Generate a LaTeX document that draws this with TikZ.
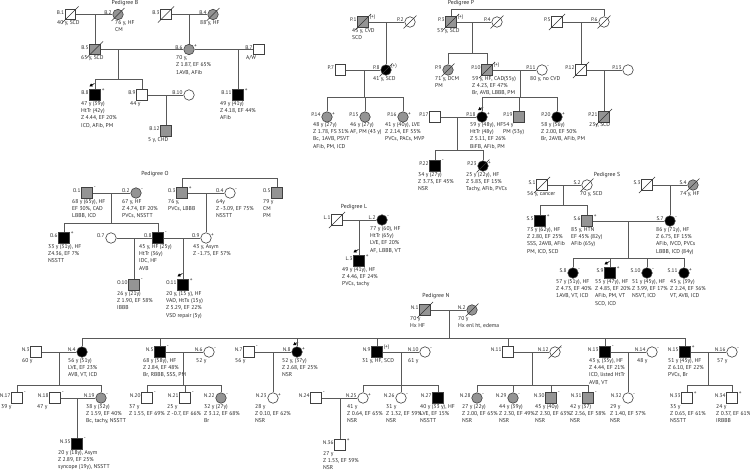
\documentclass[tikz,border=0pt]{standalone}
\usepackage{fontspec}
\setmainfont{PT Sans}
\usetikzlibrary{arrows.meta}
\tikzset{
  ln/.style={draw=black!65,line width=0.7pt},
  sq/.style={rectangle,draw=black!75,line width=0.6pt,minimum size=10.5pt,inner sep=0pt},
  ci/.style={circle,draw=black!75,line width=0.6pt,minimum size=10.5pt,inner sep=0pt},
  wh/.style={fill=white},
  gr/.style={fill=black!42},
  bk/.style={fill=black},
  lab/.style={anchor=east,inner sep=0.8pt,text=black!85,font=\fontsize{5.3}{6}\selectfont},
  sgn/.style={anchor=west,inner sep=0.4pt,text=black!85,font=\fontsize{5.3}{6}\selectfont},
  txt/.style={anchor=north west,align=left,inner sep=0pt,text=black!85,font=\fontsize{5.6}{7.3}\selectfont},
  ttl/.style={inner sep=0pt,text=black!85,font=\fontsize{5.8}{7}\selectfont},
  decl/.style={draw=black!80,line width=0.6pt},
  prb/.style={-{Triangle[length=3pt,width=3.4pt]},line width=0.7pt,draw=black}
}
\newcommand{\pp}[5]{\node[#2] (#1) at (#3,#4) {};\node[lab] (#1l) at ([yshift=2pt]#1.west) {#5};}
\newcommand{\sg}[2]{\node[sgn] (#1s) at ([xshift=0.6pt,yshift=-0.5pt]#1.north east) {#2};}
\newcommand{\dd}[1]{\draw[decl] ([shift={(-2.5pt,-2.5pt)}]#1.south west) -- ([shift={(2.5pt,2.5pt)}]#1.north east);}
\newcommand{\tx}[4]{\node[txt] (#1t) at (#2,#3) {#4};}
\newcommand{\pb}[1]{\draw[prb] ([shift={(5pt,6pt)}]#1.north west) -- ([shift={(0pt,3pt)}]#1.north west);}
\newcommand{\kids}[2]{\foreach \kk in {#2} {\draw[ln] (#1) -| (\kk);}}
\begin{document}
\begin{tikzpicture}[x=1pt,y=-1pt]
\useasboundingbox (0,0) rectangle (750,472);
%================ Pedigree B
\node[ttl] (tB) at (125,3.5) {Pedigree B};
\pp{B1}{sq,wh}{70.5}{14.5}{B.1}
\pp{B2}{ci,gr}{118}{14.5}{B.2}
\pp{B3}{sq,wh}{166}{14.5}{B.3}
\pp{B4}{ci,gr}{213}{14.5}{B.4}
\pp{B5}{sq,gr}{95}{49.5}{B.5}
\pp{B6}{ci,gr}{189}{49.5}{B.6}
\pp{B7}{sq,wh}{259}{49.5}{B.7}
\pp{B8}{sq,bk}{95}{95}{B.8}
\pp{B9}{sq,wh}{142}{95}{B.9}
\pp{B10}{ci,wh}{189}{95}{B.10}
\pp{B11}{sq,bk}{238}{95}{B.11}
\pp{B12}{sq,gr}{166}{131}{B.12}
\dd{B1}\dd{B2}\dd{B3}\dd{B4}\dd{B5}
\sg{B6}{+}\sg{B8}{+}\sg{B11}{+}
\pb{B8}
\tx{B1}{57}{20.5}{40 y, SCD}
\tx{B2}{115}{20.5}{76 y, HF\\CM}
\tx{B4}{200}{20.5}{88 y, HF}
\tx{B5}{81}{55.5}{65 y, SCD}
\tx{B6}{176}{55.5}{70 y,\\Z 1.87, EF 65\%\\1AVB, AFib}
\tx{B7}{246}{55.5}{A/W}
\tx{B8}{81}{101}{47 y (39y)\\HtTr (42y)\\Z 4.44, EF 20\%\\ICD, AFib, PM}
\tx{B9}{130}{101}{44 y}
\tx{B11}{220}{101}{49 y (41y)\\Z 4.18, EF 44\%\\AFib}
\tx{B12}{148}{137}{5 y, CHD}
\coordinate (jB1) at (95,14.5);
\coordinate (jB2) at (189,14.5);
\coordinate (jB3) at (118,49.5);
\coordinate (jB4) at (238,49.5);
\coordinate (jB5) at (166,95);
\coordinate (sB) at (118,79);
\draw[ln] (B1) -- (B2);
\draw[ln] (B3) -- (B4);
\draw[ln] (B5) -- (B6);
\draw[ln] (B6) -- (B7);
\draw[ln] (B9) -- (B10);
\draw[ln] (jB1) -- (B5);
\draw[ln] (jB2) -- (B6);
\draw[ln] (jB3) -- (sB);
\kids{sB}{B8,B9}
\draw[ln] (jB4) -- (B11);
\draw[ln] (jB5) -- (B12);
%================ Pedigree P
\node[ttl] (tP) at (461,3) {Pedigree P};
\pp{P1}{sq,gr}{363}{22}{P.1}
\pp{P2}{ci,wh}{410}{22}{P.2}
\pp{P3}{sq,gr}{451}{22}{P.3}
\pp{P4}{ci,wh}{497}{22}{P.4}
\pp{P5}{sq,wh}{557}{22}{P.5}
\pp{P6}{ci,wh}{604}{22}{P.6}
\pp{P7}{sq,wh}{340.5}{70}{P.7}
\pp{P8}{ci,bk}{386}{70}{P.8}
\pp{P9}{ci,gr}{448}{70}{P.9}
\pp{P10}{sq,gr}{487}{70}{P.10}
\pp{P11}{ci,wh}{542}{70}{P.11}
\pp{P12}{sq,wh}{581}{70}{P.12}
\pp{P13}{ci,wh}{628}{70}{P.13}
\pp{P14}{ci,gr}{327}{117}{P.14}
\pp{P15}{ci,gr}{365}{117}{P.15}
\pp{P16}{ci,gr}{403}{117}{P.16}
\pp{P17}{sq,wh}{435}{117}{P.17}
\pp{P18}{ci,bk}{482}{117}{P.18}
\pp{P19}{sq,gr}{519}{117}{P.19}
\pp{P20}{ci,bk}{557}{117}{P.20}
\pp{P21}{sq,gr}{604}{117}{P.21}
\pp{P22}{sq,bk}{435}{166}{P.22}
\pp{P23}{ci,bk}{483}{166}{P.23}
\dd{P1}\dd{P2}\dd{P3}\dd{P4}\dd{P5}\dd{P6}\dd{P8}\dd{P9}\dd{P10}\dd{P12}\dd{P21}\dd{P23}
\sg{P1}{(+)}\sg{P3}{(+)}\sg{P8}{(+)}\sg{P10}{(+)}\sg{P11}{-}
\sg{P14}{+}\sg{P16}{+}\sg{P18}{+}\sg{P20}{+}\sg{P22}{-}\sg{P23}{+}
\pb{P18}
\tx{P1}{352}{28.5}{43 y, CVD\\SCD}
\tx{P3}{437}{28.5}{53 y, SCD}
\tx{P8}{373}{76}{41 y, SCD}
\tx{P9}{435}{76}{71 y, DCM\\PM}
\tx{P10}{472}{76}{59 y, HF, CAD(55y)\\Z 4.23, EF 47\%\\Br, AVB, LBBB, PM}
\tx{P11}{530}{76}{80 y, no CVD}
\tx{P14}{313}{122}{48 y (27y)\\Z 1.78, FS 31\%\\Bc, 1AVB, PSVT\\AFib, PM, ICD}
\tx{P15}{350}{122}{46 y (27y)\\AF, PM (43 y)}
\tx{P16}{385}{122}{41 y (40y), LVE\\Z 2.14, EF 55\%\\PVCs, PACs, MVP}
\tx{P18}{470}{122}{59 y (48y), HF\\HtTr (48y)\\Z 5.11, EF 26\%\\BiFB, AFib, PM}
\tx{P19}{503}{122}{54 y\\PM (53y)}
\tx{P20}{541}{122}{58 y (56y)\\Z 2.00, EF 50\%\\Br, 2AVB, AFib, PM}
\tx{P21}{589}{122}{23y, SCD}
\tx{P22}{418}{172}{34 y (27y)\\Z 3.73, EF 45\%\\NSR}
\tx{P23}{466}{172}{25 y (22y), HF\\Z 5.83, EF 15\%\\Tachy, AFib, PVCs}
\coordinate (sP0) at (527,9);
\kids{sP0}{P3,P6}
\coordinate (jP1) at (386,22);
\coordinate (jP2) at (472,22);
\coordinate (jP3) at (581,22);
\coordinate (jP4) at (364,70);
\coordinate (jP5) at (520,70);
\coordinate (jP6) at (604,70);
\coordinate (jP7) at (457,117);
\coordinate (sP2) at (472,53);
\coordinate (sP4) at (364,97);
\coordinate (sP5) at (520,97);
\coordinate (sP7) at (457,150);
\draw[ln] (P1) -- (P2);
\draw[ln] (P3) -- (P4);
\draw[ln] (P5) -- (P6);
\draw[ln] (P7) -- (P8);
\draw[ln] (P10) -- (P11);
\draw[ln] (P12) -- (P13);
\draw[ln] (P17) -- (P18);
\draw[ln] (jP1) -- (P8);
\draw[ln] (jP2) -- (sP2);
\kids{sP2}{P9,P10}
\draw[ln] (jP3) -- (P12);
\draw[ln] (jP4) -- (sP4);
\kids{sP4}{P14,P15,P16}
\draw[ln] (jP5) -- (sP5);
\kids{sP5}{P18,P19,P20}
\draw[ln] (jP6) -- (P21);
\draw[ln] (jP7) -- (sP7);
\kids{sP7}{P22,P23}
%================ Pedigree O
\node[ttl] (tO) at (155,174) {Pedigree O};
\pp{O1}{sq,gr}{87}{193}{O.1}
\pp{O2}{ci,gr}{136}{193}{O.2}
\pp{O3}{sq,gr}{182}{193}{O.3}
\pp{O4}{ci,wh}{230}{193}{O.4}
\pp{O5}{sq,gr}{277}{193}{O.5}
\pp{O6}{sq,bk}{64}{238}{O.6}
\pp{O7}{ci,wh}{111}{238}{O.7}
\pp{O8}{sq,bk}{158}{238}{O.8}
\pp{O9}{ci,wh}{206}{238}{O.9}
\pp{O10}{sq,gr}{134}{285}{O.10}
\pp{O11}{sq,bk}{183}{285}{O.11}
\sg{O1}{-}\sg{O2}{-}\sg{O3}{+}\sg{O4}{-}\sg{O6}{+}\sg{O8}{-}\sg{O9}{+}\sg{O10}{-}\sg{O11}{+}
\pb{O11}
\tx{O1}{72}{199}{68 y (65y), HF\\EF 30\%, CAD\\LBBB, ICD}
\tx{O2}{122}{199}{67 y, HF\\Z 4.74, EF 20\%\\PVCs, NSSTT}
\tx{O3}{168}{199}{76 y,\\PVCs, LBBB}
\tx{O4}{216}{199}{64y\\Z -3.09, EF 75\%\\NSSTT}
\tx{O5}{263}{199}{79 y\\CM\\PM}
\tx{O6}{48}{244}{33 y (31y), HF\\Z4.36, EF 7\%\\NSSTT}
\tx{O8}{139}{244}{45 y, HF (25y)\\HtTr (36y)\\IDC, HF\\AVB}
\tx{O9}{193}{244}{43 y, Asym\\Z -1.75, EF 57\%}
\tx{O10}{117}{291}{26 y (21y)\\Z 1.90, EF 58\%\\IBBB}
\tx{O11}{166}{291}{20 y, (15 y), HF\\VAD, HtTx (15y)\\Z 5.29, EF 22\%\\VSD repair (5y)}
\coordinate (sO0) at (230,178);
\kids{sO0}{O3,O5}
\coordinate (jO1) at (111,193);
\coordinate (jO2) at (206,193);
\coordinate (jO3) at (134,238);
\coordinate (jO4) at (183,238);
\coordinate (sO1) at (111,223);
\draw[ln] (O1) -- (O2);
\draw[ln] (O3) -- (O4);
\draw[ln] (O7) -- (O8);
\draw[ln] (O8) -- (O9);
\draw[ln] (jO1) -- (sO1);
\kids{sO1}{O6,O8}
\draw[ln] (jO2) -- (O9);
\draw[ln] (jO3) -- (O10);
\draw[ln] (jO4) -- (O11);
%================ Pedigree L
\node[ttl] (tL) at (354,207) {Pedigree L};
\pp{L1}{sq,wh}{337}{220}{L.1}
\pp{L2}{ci,bk}{382}{220}{L.2}
\pp{L3}{sq,bk}{359}{261}{L.3}
\dd{L1}
\sg{L2}{-}\sg{L3}{+}
\pb{L3}
\tx{L2}{370}{226}{77 y (60), HF\\HtTr (65y)\\LVE, EF 20\%\\AF, LBBB, VT}
\tx{L3}{342}{267}{49 y (41y), HF\\Z 4.46, EF 24\%\\PVCs, tachy}
\coordinate (jL1) at (359,220);
\draw[ln] (L1) -- (L2);
\draw[ln] (jL1) -- (L3);
%================ Pedigree S
\node[ttl] (tS) at (607,175) {Pedigree S};
\pp{S1}{sq,wh}{542}{185}{S.1}
\pp{S2}{ci,wh}{587}{185}{S.2}
\pp{S3}{sq,wh}{647}{185}{S.3}
\pp{S4}{ci,gr}{693}{185}{S.4}
\pp{S5}{sq,bk}{540}{221}{S.5}
\pp{S6}{sq,gr}{587}{221}{S.6}
\pp{S7}{ci,bk}{670}{221}{S.7}
\pp{S8}{ci,bk}{573}{273}{S.8}
\pp{S9}{sq,bk}{610}{273}{S.9}
\pp{S10}{ci,bk}{647}{273}{S.10}
\pp{S11}{ci,bk}{684}{273}{S.11}
\dd{S1}\dd{S2}\dd{S3}\dd{S4}
\sg{S5}{+}\sg{S6}{+}\sg{S7}{-}\sg{S8}{-}\sg{S9}{+}\sg{S10}{-}\sg{S11}{+}
\pb{S9}
\tx{S1}{527}{191}{56 y, cancer}
\tx{S2}{580}{191}{70 y, SCD}
\tx{S4}{680}{191}{74 y, HF}
\tx{S5}{527}{227}{73 y (62y), HF\\Z 2.80, EF 25\%\\SSS, 2AVB, AFib\\PM, ICD, SCD}
\tx{S6}{571}{227}{85 y, HTN\\EF 45\% (82y)\\AFib (65y)}
\tx{S7}{656}{227}{86 y (71y), HF\\Z 6.75, EF 15\%\\AFib, IVCD, PVCs\\LBBB, ICD (84y)}
\tx{S8}{556}{279}{57 y (51y), HF\\Z 4.73, EF 40\%\\1AVB, VT, ICD}
\tx{S9}{595}{279}{55 y (47y), HF\\Z 4.85, EF 20\%\\AFib, PM, VT\\SCD, ICD}
\tx{S10}{632}{279}{51 y (45y), HF\\Z 3.99, EF 17\%\\NSVT, ICD}
\tx{S11}{670}{279}{45 y, (39y)\\Z 2.24, EF 36\%\\VT, AVB, ICD}
\coordinate (jS1) at (563,185);
\coordinate (jS2) at (670,185);
\coordinate (jS3) at (628,221);
\coordinate (sS1) at (563,205);
\coordinate (sS3) at (628,258);
\draw[ln] (S1) -- (S2);
\draw[ln] (S3) -- (S4);
\draw[ln] (S6) -- (S7);
\draw[ln] (jS1) -- (sS1);
\kids{sS1}{S5,S6}
\draw[ln] (jS2) -- (S7);
\draw[ln] (jS3) -- (sS3);
\kids{sS3}{S8,S9,S10,S11}
%================ Pedigree N
\node[ttl] (tN) at (436,296) {Pedigree N};
\pp{N1}{sq,gr}{425}{310}{N.1}
\pp{N2}{ci,gr}{472}{310}{N.2}
\pp{N3}{sq,wh}{36}{352}{N.3}
\pp{N4}{ci,bk}{82}{352}{N.4}
\pp{N5}{sq,bk}{160}{352}{N.5}
\pp{N6}{ci,wh}{209}{352}{N.6}
\pp{N7}{sq,wh}{249}{352}{N.7}
\pp{N8}{ci,bk}{297}{352}{N.8}
\pp{N9}{sq,bk}{377}{352}{N.9}
\pp{N10}{ci,wh}{425}{352}{N.10}
\pp{N11}{sq,wh}{508}{352}{N.11}
\pp{N12}{ci,wh}{555}{352}{N.12}
\pp{N13}{sq,bk}{605}{352}{N.13}
\pp{N14}{ci,wh}{652}{352}{N.14}
\pp{N15}{sq,bk}{685}{352}{N.15}
\pp{N16}{ci,wh}{732}{352}{N.16}
\pp{N17}{sq,wh}{17}{398}{N.17}
\pp{N18}{sq,wh}{55}{398}{N.18}
\pp{N19}{ci,gr}{101}{398}{N.19}
\pp{N20}{sq,wh}{147}{398}{N.20}
\pp{N21}{sq,wh}{185}{398}{N.21}
\pp{N22}{ci,gr}{221}{398}{N.22}
\pp{N23}{ci,wh}{273}{398}{N.23}
\pp{N24}{sq,wh}{316}{398}{N.24}
\pp{N25}{ci,wh}{363}{398}{N.25}
\pp{N26}{ci,wh}{401}{398}{N.26}
\pp{N27}{sq,bk}{438}{398}{N.27}
\pp{N28}{ci,gr}{477}{398}{N.28}
\pp{N29}{ci,gr}{513}{398}{N.29}
\pp{N30}{sq,gr}{551}{398}{N.30}
\pp{N31}{sq,gr}{588}{398}{N.31}
\pp{N32}{ci,wh}{628}{398}{N.32}
\pp{N33}{sq,wh}{687}{398}{N.33}
\pp{N34}{sq,wh}{732}{398}{N.34}
\pp{N35}{sq,bk}{77}{444}{N.35}
\pp{N36}{sq,wh}{340}{445}{N.36}
\dd{N1}\dd{N2}\dd{N12}
\sg{N5}{-}\sg{N6}{-}\sg{N7}{-}\sg{N8}{+}\sg{N9}{(+)}\sg{N10}{-}\sg{N12}{-}\sg{N13}{-}\sg{N14}{-}\sg{N15}{+}\sg{N16}{-}
\sg{N17}{-}\sg{N18}{-}\sg{N19}{-}\sg{N20}{-}\sg{N21}{-}\sg{N22}{-}\sg{N23}{+}\sg{N24}{-}\sg{N25}{+}\sg{N26}{-}
\sg{N28}{-}\sg{N29}{-}\sg{N30}{-}\sg{N31}{-}\sg{N32}{-}\sg{N33}{+}\sg{N34}{+}\sg{N35}{-}\sg{N36}{+}
\pb{N8}
\tx{N1}{410}{316}{70 y\\Hx HF}
\tx{N2}{458}{316}{70 y\\Hx enl ht, edema}
\tx{N3}{22}{358}{60 y}
\tx{N4}{68}{358}{56 y (51y)\\LVE, EF 23\%\\AVB, VT, ICD}
\tx{N5}{143}{358}{68 y (58y), HF\\Z 2.84, EF 48\%\\Br, RBBB, SSS, PM}
\tx{N6}{196}{358}{52 y}
\tx{N7}{235}{358}{56 y}
\tx{N8}{282}{358}{52 y, (37y)\\Z 2.68, EF 25\%\\NSR}
\tx{N9}{362}{358}{31 y, HF, SCD}
\tx{N10}{408}{358}{61 y}
\tx{N13}{589}{358}{43 y, (35y), HF\\Z 4.44, EF 21\%\\ICD, listed HtTr\\AVB, VT}
\tx{N14}{637}{358}{48 y}
\tx{N15}{668}{358}{51 y (45y), HF\\Z 6.10, EF 22\%\\PVCs, Br}
\tx{N16}{717}{358}{57 y}
\tx{N17}{1}{404}{39 y}
\tx{N18}{37}{404}{47 y}
\tx{N19}{86}{404}{38 y (32y)\\Z 1.59, EF 40\%\\Bc, tachy, NSSTT}
\tx{N20}{129}{404}{37 y\\Z 1.55, EF 69\%}
\tx{N21}{167}{404}{25 y\\Z -0.7, EF 66\%}
\tx{N22}{204}{404}{32 y (27y)\\Z 3.12, EF 68\%\\Br}
\tx{N23}{255}{404}{28 y\\Z 0.10, EF 62\%\\NSR}
\tx{N25}{347}{404}{41 y\\Z 0.64, EF 65\%\\NSR}
\tx{N26}{386}{404}{31 y\\Z 1.32, EF 59\%\\NSR}
\tx{N27}{420}{404}{40 y (33 y), HF\\LVE, EF 15\%\\NSSTT}
\tx{N28}{462}{404}{27 y (22y)\\Z 2.00, EF 65\%\\NSR}
\tx{N29}{499}{404}{44 y (39y)\\Z 2.30, EF 49\%\\NSR}
\tx{N30}{535}{404}{45 y (40y)\\Z 2.30, EF 63\%\\NSR}
\tx{N31}{570}{404}{42 y (37)\\Z 2.56, EF 58\%\\NSR}
\tx{N32}{610}{404}{29 y\\Z 1.40, EF 57\%\\NSR}
\tx{N33}{670}{404}{35 y\\Z 0.65, EF 61\%\\NSSTT}
\tx{N34}{716}{404}{24 y\\Z 0.37, EF 61\%\\IRBBB}
\tx{N35}{58}{450}{20 y (18y), Asym\\Z 2.89, EF 25\%\\syncope (19y), NSSTT}
\tx{N36}{323}{451}{27 y\\Z 1.53, EF 59\%\\NSR}
\coordinate (jN1) at (449,310);
\coordinate (sN1) at (449,338);
\coordinate (jN3) at (59,352);
\coordinate (sN3) at (59,385);
\coordinate (jN5) at (183,352);
\coordinate (sN5) at (183,385);
\coordinate (jN7) at (273,352);
\coordinate (jN9) at (401,352);
\coordinate (sN9) at (401,385);
\coordinate (jN11) at (532,352);
\coordinate (sN11) at (532,385);
\coordinate (jN13) at (628,352);
\coordinate (jN15) at (708,352);
\coordinate (sN15) at (708,385);
\coordinate (jN18) at (77,398);
\coordinate (jN24) at (340,398);
\draw[ln] (N1) -- (N2);
\draw[ln] (jN1) -- (sN1);
\kids{sN1}{N4,N5,N8,N9,N11,N13,N15}
\draw[ln] (N3) -- (N4);
\draw[ln] (N5) -- (N6);
\draw[ln] (N7) -- (N8);
\draw[ln] (N9) -- (N10);
\draw[ln] (N11) -- (N12);
\draw[ln] (N13) -- (N14);
\draw[ln] (N15) -- (N16);
\draw[ln] (N18) -- (N19);
\draw[ln] (N24) -- (N25);
\draw[ln] (jN3) -- (sN3);
\kids{sN3}{N17,N19}
\draw[ln] (jN5) -- (sN5);
\kids{sN5}{N20,N21,N22}
\draw[ln] (jN7) -- (N23);
\draw[ln] (jN9) -- (sN9);
\kids{sN9}{N25,N26,N27}
\draw[ln] (jN11) -- (sN11);
\kids{sN11}{N28,N29,N30,N31}
\draw[ln] (jN13) -- (N32);
\draw[ln] (jN15) -- (sN15);
\kids{sN15}{N33,N34}
\draw[ln] (jN18) -- (N35);
\draw[ln] (jN24) -- (N36);
\end{tikzpicture}
\end{document}
